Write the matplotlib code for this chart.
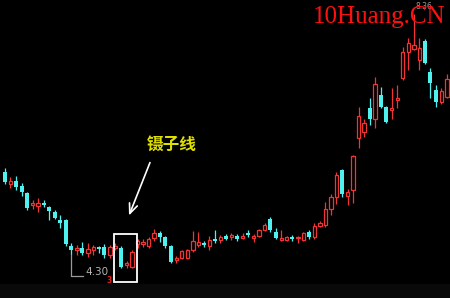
import matplotlib
matplotlib.use("Agg")
import matplotlib.pyplot as plt
from matplotlib.patches import Rectangle

# OHLC (price units)
opens = [5.69, 5.48, 5.54, 5.45, 5.33, 5.13, 5.11, 5.16, 5.10, 5.01,
         4.88, 4.88, 4.44, 4.37, 4.40, 4.32, 4.37, 4.42, 4.42, 4.28,
         4.40, 4.40, 4.11, 4.08, 4.47, 4.47, 4.44, 4.57, 4.66, 4.59,
         4.44, 4.20, 4.23, 4.23, 4.37, 4.45, 4.49, 4.44, 4.55, 4.54,
         4.60, 4.59, 4.60, 4.57, 4.66, 4.57, 4.60, 4.71, 4.89, 4.67,
         4.54, 4.54, 4.59, 4.57, 4.54, 4.67, 4.59, 4.77, 4.79, 5.06,
         5.26, 5.72, 5.28, 5.38, 6.26, 6.36, 6.77, 6.58, 6.99, 6.79,
         6.74, 6.91, 7.28, 7.72, 7.77, 7.58, 7.90, 7.38, 7.07, 6.87,
         6.96]
closes = [5.52, 5.54, 5.43, 5.35, 5.08, 5.16, 5.16, 5.13, 5.03, 4.91,
          4.82, 4.47, 4.37, 4.40, 4.32, 4.39, 4.42, 4.39, 4.28, 4.42,
          4.44, 4.08, 4.15, 4.33, 4.52, 4.50, 4.55, 4.66, 4.59, 4.44,
          4.17, 4.23, 4.35, 4.37, 4.52, 4.50, 4.45, 4.54, 4.52, 4.59,
          4.55, 4.62, 4.55, 4.60, 4.62, 4.60, 4.71, 4.79, 4.71, 4.57,
          4.57, 4.59, 4.55, 4.59, 4.66, 4.59, 4.77, 4.82, 5.06, 5.26,
          5.64, 5.31, 5.35, 5.96, 6.64, 6.52, 6.58, 7.18, 6.79, 6.53,
          6.77, 6.94, 7.72, 7.87, 7.84, 7.78, 7.53, 7.19, 6.87, 7.06,
          7.26]
highs = [5.75, 5.60, 5.62, 5.50, 5.35, 5.21, 5.25, 5.21, 5.11, 5.04,
         4.96, 4.89, 4.49, 4.45, 4.50, 4.49, 4.45, 4.44, 4.47, 4.45,
         4.49, 4.44, 4.18, 4.37, 4.55, 4.55, 4.59, 4.72, 4.69, 4.60,
         4.45, 4.27, 4.37, 4.39, 4.69, 4.67, 4.52, 4.60, 4.71, 4.62,
         4.64, 4.66, 4.64, 4.66, 4.71, 4.64, 4.72, 4.82, 4.93, 4.74,
         4.71, 4.60, 4.62, 4.60, 4.67, 4.71, 4.82, 4.86, 5.18, 5.31,
         5.69, 5.74, 5.40, 5.97, 6.79, 6.58, 6.94, 7.29, 7.13, 6.80,
         7.11, 7.16, 7.80, 7.95, 8.36, 7.95, 7.94, 7.45, 7.16, 7.11,
         7.34]
lows = [5.48, 5.42, 5.38, 5.28, 5.04, 5.06, 5.01, 5.10, 4.88, 4.89,
        4.74, 4.44, 4.30, 4.28, 4.28, 4.25, 4.28, 4.32, 4.23, 4.23,
        4.37, 4.06, 4.06, 4.06, 4.40, 4.42, 4.40, 4.52, 4.50, 4.40,
        4.15, 4.15, 4.22, 4.22, 4.33, 4.42, 4.42, 4.37, 4.49, 4.49,
        4.54, 4.54, 4.52, 4.55, 4.59, 4.50, 4.59, 4.69, 4.67, 4.55,
        4.52, 4.52, 4.52, 4.49, 4.52, 4.55, 4.55, 4.76, 4.76, 4.96,
        5.15, 5.26, 5.13, 5.16, 6.09, 6.28, 6.48, 6.43, 6.77, 6.52,
        6.58, 6.77, 7.24, 7.41, 7.75, 7.41, 7.51, 6.94, 6.79, 6.84,
        6.94]

low_idx = 12          # bar carrying the 4.30 label
high_idx = 74         # bar carrying the 8.36 label
tweezer = [20, 21, 22, 23]

up_color = "#f23434"
down_color = "#4ff0f0"

fig = plt.figure(figsize=(4.5, 2.98), dpi=100, facecolor="black")
ax = fig.add_axes([0, 0, 1, 1])
ax.set_facecolor("black")

for i in range(len(opens)):
    o, c, h, l = opens[i], closes[i], highs[i], lows[i]
    col = up_color if c >= o else down_color
    ax.vlines(i, l, h, color=col, linewidth=0.9, zorder=2)
    if c >= o:
        ax.bar(i, c - o, bottom=o, width=0.62, facecolor="black",
               edgecolor=col, linewidth=0.9, zorder=3)
    else:
        ax.bar(i, o - c, bottom=c, width=0.72, color=col,
               linewidth=0, zorder=3)

ax.set_xlim(-0.9, 80.55)
ax.set_ylim(3.556, 8.597)
ax.axis("off")

# faint band at the bottom
ax.axhspan(3.556, 3.80, color="#090909", zorder=0)

# low marker
lx = low_idx
ax.plot([lx, lx, lx + 2.2], [lows[lx], 3.93, 3.93], color="#9a9a9a",
        linewidth=0.9, zorder=1)
ax.text(lx + 2.5, 3.99, "4.30", color="#b4b4b4", fontsize=7.5,
        va="center", ha="left")
ax.text(18.8, 3.86, "3", color="#e02020", fontsize=5.5, fontweight="bold",
        va="center", ha="center", zorder=5)

# high marker
ax.text(high_idx + 0.3, highs[high_idx] + 0.13, "8.36", color="#9a9a9a",
        fontsize=5.5, va="center", ha="left", zorder=1)

# box around the tweezer bars
x0 = tweezer[0] - 0.3
x1 = tweezer[-1] + 0.9
y0 = min(lows[i] for i in tweezer) - 0.23
y1 = max(highs[i] for i in tweezer) + 0.15
ax.add_patch(Rectangle((x0, y0), x1 - x0, y1 - y0, fill=False,
                       edgecolor="white", linewidth=1.3, zorder=4))

# label and arrow
ax.annotate("", xy=(128 / 450, 1 - 218 / 298), xytext=(151 / 450, 1 - 160 / 298),
            xycoords="axes fraction", textcoords="axes fraction",
            arrowprops=dict(arrowstyle="->,head_length=0.7,head_width=0.3",
                            color="white", linewidth=1.2))
ax.text(172 / 450, 1 - 145 / 298, "镊子线", color="#e0e000", fontsize=12,
        fontweight="bold", family=["Noto Sans CJK SC", "DejaVu Sans"],
        transform=ax.transAxes, ha="center", va="center")

# watermark
ax.text(313 / 450, 1 - 23 / 298, "10Huang.CN", color="#ff1010",
        fontsize=18, family="Liberation Serif", transform=ax.transAxes,
        ha="left", va="baseline", zorder=6)

fig.savefig("out.png", dpi=100, facecolor="black")
